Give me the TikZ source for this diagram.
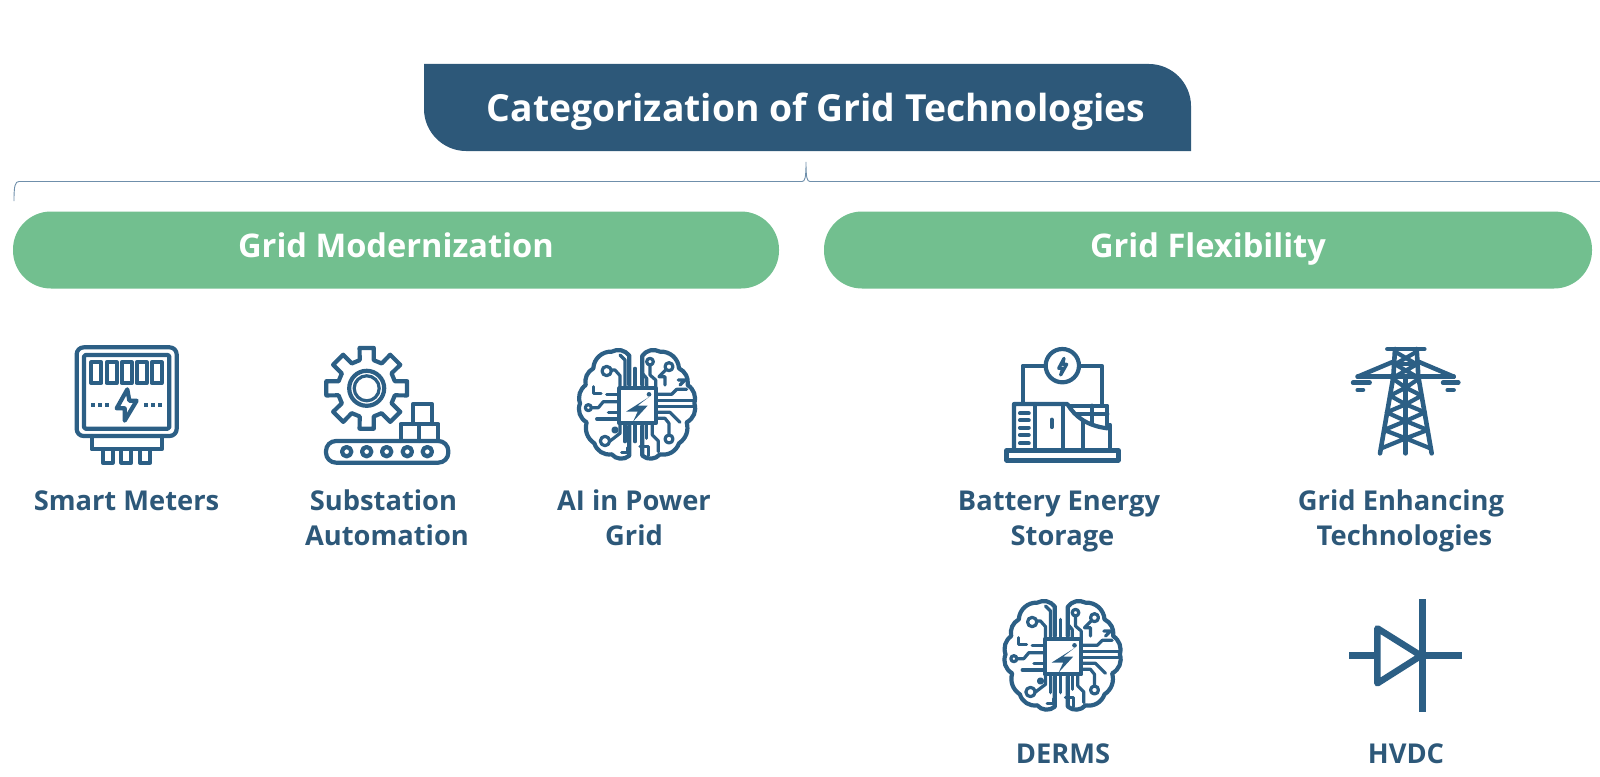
\documentclass[tikz,border=0pt]{standalone}
\usepackage{fontspec}
\setmainfont{Open Sans}
\definecolor{hdr}{HTML}{2D5879}
\definecolor{grn}{HTML}{72BF8F}
\definecolor{ico}{HTML}{2C5F85}
\definecolor{brk}{HTML}{6F8FAB}
\tikzset{
  ic/.style={draw=ico,line width=4.2pt,line join=round,line cap=round},
  icthin/.style={draw=ico,line width=3.2pt,line join=round,line cap=round},
  pillbox/.style={fill=grn,rounded corners=38pt,minimum height=77pt,inner sep=0pt},
  pilltext/.style={anchor=base,text=white,font=\bfseries\fontsize{32.6}{38}\selectfont},
  hdrtext/.style={anchor=base,text=white,font=\bfseries\fontsize{37.3}{42}\selectfont},
  lab/.style={anchor=base,text=hdr,font=\bfseries\fontsize{27.3}{35}\selectfont,align=center},
}
\newcommand{\brainicon}[2]{%
\begin{scope}[shift={(#1,#2)},scale=1/3]
 % outline, left half
 \draw[ic] (193,150) -- (193,62) to[bend right=40] (140,50) to[bend right=45] (85,100)
   to[bend right=35] (62,150) to[bend right=35] (45,205) to[bend right=40] (65,262)
   to[bend right=35] (88,325) to[bend right=40] (140,358) to[bend right=45] (193,362) -- (193,272);
 % outline, right half
 \draw[ic] (232,150) -- (232,62) to[bend left=40] (285,50) to[bend left=45] (342,100)
   to[bend left=35] (368,150) to[bend left=35] (388,205) to[bend left=40] (365,262)
   to[bend left=35] (342,325) to[bend left=40] (285,358) to[bend left=45] (232,362) -- (232,272);
 % chip
 \draw[ic] (163,160) rectangle (272,265);
 \fill[ico] (252,178) circle (7);
 \fill[ico] (252,186) -- (183,230) -- (218,230) -- (204,260) -- (248,212) -- (218,212) -- cycle;
 % traces, left
 \draw[icthin] (125,108) circle (14);
 \draw[icthin] (139,105) -- (150,105) -- (165,122) -- (165,158);
 \draw[icthin] (165,60) -- (180,75) -- (180,158);
 \draw[icthin] (210,100) -- (210,158);
 \draw[icthin] (85,155) -- (85,175) -- (108,175);
 \draw[icthin] (125,178) -- (160,178);
 \draw[icthin] (70,218) circle (9);
 \draw[icthin] (80,218) -- (100,218) -- (115,200) -- (160,200);
 \draw[icthin] (130,232) -- (160,232);
 \draw[icthin] (95,252) -- (160,252);
 \draw[icthin] (120,318) circle (14);
 \draw[icthin] (135,318) -- (165,295) -- (165,268);
 \draw[icthin] (150,285) circle (6);
 \draw[icthin] (180,268) -- (180,320);
 \draw[icthin] (170,352) -- (188,352) -- (188,338);
 \draw[icthin] (210,268) -- (210,320);
 % traces, right
 \draw[icthin] (255,80) circle (10);
 \draw[icthin] (255,90) -- (255,120) -- (272,135) -- (272,158);
 \draw[icthin] (312,95) circle (12);
 \draw[icthin] (302,105) -- (282,125) -- (300,125) -- (300,150);
 \draw[icthin] (232,115) -- (245,130) -- (245,158);
 \draw[icthin] (275,178) -- (320,178) -- (335,163) -- (365,163);
 \draw[icthin] (340,135) -- (360,135) -- (345,150);
 \draw[icthin] (275,197) -- (385,197);
 \draw[icthin] (275,215) -- (385,215);
 \draw[icthin] (275,232) -- (315,232) -- (345,262);
 \draw[icthin] (275,250) -- (300,250) -- (312,265) -- (312,300);
 \draw[icthin] (312,312) circle (12);
 \draw[icthin] (245,268) -- (245,310);
 \draw[icthin] (262,268) -- (262,300) -- (280,318) -- (280,350);
 \draw[icthin] (225,335) -- (250,335) -- (250,362);
\end{scope}}
\begin{document}
\begin{tikzpicture}[x=1pt,y=-1pt]
\useasboundingbox (0,0) rectangle (1600,776);
% header
\fill[hdr] (424,64) -- (1149,64) .. controls (1172,64) and (1191,83) .. (1191,106) -- (1191,151)
  -- (466,151) .. controls (443,151) and (424,132) .. (424,109) -- cycle;
\node[hdrtext] (title) at (816,121) {Categorization of Grid Technologies};
% bracket
\coordinate (bl) at (14,201);
\coordinate (bt) at (806,162);
\coordinate (br) at (1600,181.5);
\draw[brk,line width=.9pt] (bl) .. controls (14,186) and (15,181.5) .. (19,181.5) -- (802,181.5)
  .. controls (805,181.5) and (806,178) .. (bt) .. controls (806,178) and (807,181.5) .. (810,181.5) -- (br);
% pills
\node[pillbox,minimum width=766pt] (gm) at (396,250) {};
\node[pillbox,minimum width=768pt] (gf) at (1208,250) {};
\node[pilltext] (gmt) at (396,257) {Grid Modernization};
\node[pilltext] (gft) at (1208,257) {Grid Flexibility};
% labels
\node[lab] (l1) at (126.5,510) {Smart Meters};
\node[lab] (l2) at (387,545) {Substation\hspace*{7pt}\\Automation};
\node[lab] (l3) at (634,545) {AI in Power\\Grid};
\node[lab] (l4) at (1062.5,545) {Battery Energy\hspace*{7pt}\\Storage};
\node[lab] (l5) at (1404.5,545) {Grid Enhancing\hspace*{7pt}\\Technologies};
\node[lab] (l6) at (1063,763) {DERMS};
\node[lab] (l7) at (1406,763) {HVDC};
% smart meter
\begin{scope}[shift={(50,330)},scale=1/3]
 \draw[ic,rounded corners=7] (80,52) rectangle (380,318);
 \draw[ic,rounded corners=1.5] (102,75) rectangle (358,296);
 \foreach \x in {124,170,215,260,305} \draw[ic] (\x,97) rectangle ++(30,62);
 \draw[ic,line cap=butt,dash pattern=on 3.5pt off 3.5pt] (124,225) -- (178,225);
 \draw[ic,line cap=butt,dash pattern=on 3.5pt off 3.5pt] (282,225) -- (336,225);
 \draw[ic] (232,178) -- (200,235) -- (224,235) -- (224,272) -- (260,212) -- (238,212) -- cycle;
 \draw[ic] (125,318) -- (125,358) -- (335,358) -- (335,318);
 \foreach \x in {158,214,270} \draw[ic] (\x,358) -- (\x,398) -- (\x+30,398) -- (\x+30,358);
\end{scope}
% substation gear and conveyor
\begin{scope}[shift={(366.7,388.3)}]
 \draw[ic] (-14:29) foreach \a in {0,45,...,315} { -- (\a-14:29) -- (\a-10:41) -- (\a+10:41) -- (\a+14:29) } -- cycle;
 \draw[ic] (0,0) circle (17.5);
 \draw[icthin] (0,0) circle (12.5);
\end{scope}
\begin{scope}[shift={(300,330)},scale=1/3]
 \draw[ic,rounded corners=10] (78,333) rectangle (445,398);
 \foreach \x in {140,200,260,322,382} \draw[ic] (\x,365) circle (14);
 \draw[ic] (302,333) -- (302,282) -- (415,282) -- (415,333);
 \draw[ic] (358,282) -- (358,333);
 \draw[ic] (338,282) -- (338,223) -- (397,223) -- (397,282);
\end{scope}
% brains
\brainicon{565}{335}
\brainicon{990.5}{586}
% battery
\begin{scope}[shift={(990,335)},scale=1/3]
 \draw[ic] (217,92) circle (50);
 \draw[icthin] (222,70) -- (206,100) -- (218,100) -- (212,120) -- (230,88) -- (218,88) -- cycle;
 \draw[ic] (167,92) -- (98,92) -- (98,205);
 \draw[ic] (267,92) -- (335,92) -- (335,212);
 \draw[ic,line width=5pt] (50,347) rectangle (385,375);
 \draw[ic] (72,347) -- (72,207) -- (232,207) .. controls (255,245) and (290,272) .. (352,280);
 \draw[ic] (135,207) -- (135,347);
 \draw[ic] (218,207) -- (218,347);
 \draw[ic] (280,258) -- (280,347);
 \draw[ic] (360,270) -- (360,347);
 \draw[ic] (240,212) -- (352,212) -- (352,270);
 \draw[ic] (258,238) -- (352,238);
 \draw[ic] (305,212) -- (305,262);
 \draw[ic] (185,254) -- (185,276);
 \foreach \y in {235,256,278,300,325} \draw[ic] (90,\y) -- (116,\y);
\end{scope}
% tower
\begin{scope}[shift={(1335,335)},scale=1/3]
 \draw[ic,line width=4.5pt] (157,42) -- (268,42);
 \draw[ic,line width=4.6pt] (180,42) -- (175,125) -- (135,355);
 \draw[ic,line width=4.6pt] (245,42) -- (250,125) -- (290,355);
 \draw[ic,line width=4.6pt] (212,125) -- (212,355);
 \draw[ic,line width=4.5pt] (68,125) -- (175,80);
 \draw[ic,line width=4.5pt] (356,125) -- (250,80);
 \draw[ic,line width=4.5pt] (68,125) -- (356,125);
 \draw[ic,line width=4.5pt] (54,143) -- (104,143);
 \draw[ic,line width=4.5pt] (68,165) -- (84,165);
 \draw[ic,line width=4.5pt] (324,143) -- (370,143);
 \draw[ic,line width=4.5pt] (338,165) -- (356,165);
 \draw[ic] (180,50) -- (245,88) (245,50) -- (180,88);
 \draw[ic] (180,88) -- (245,125) (245,88) -- (180,125);
 \draw[ic] (178,88) -- (247,88);
 \draw[ic] (172,130) -- (212,158) -- (165,182) -- (212,208) -- (155,232) -- (212,258) -- (147,285) -- (212,310) -- (139,340);
 \draw[ic] (253,130) -- (212,158) -- (260,182) -- (212,208) -- (270,232) -- (212,258) -- (278,285) -- (212,310) -- (286,340);
\end{scope}
% hvdc
\begin{scope}[shift={(1335,590)},scale=1/3]
 \draw[draw=ico,line width=6.5pt,line join=round] (127,115) -- (127,280) -- (258,197) -- cycle;
 \draw[draw=ico,line width=6.5pt] (42,197) -- (127,197) (258,197) -- (380,197);
 \draw[draw=ico,line width=7.5pt] (262,28) -- (262,367);
\end{scope}
\end{tikzpicture}
\end{document}
